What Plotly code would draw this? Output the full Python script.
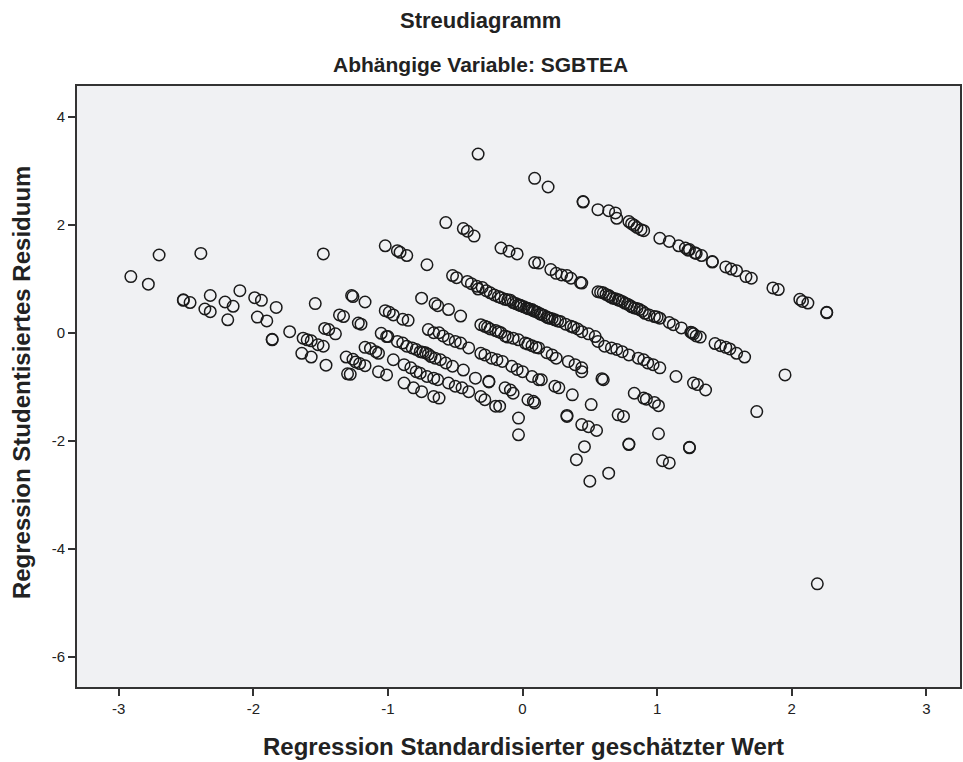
import plotly.graph_objects as go

# Left cluster
left_x = [-2.91,-2.78,-2.70,-2.39,-1.48,-2.52,-2.52,-2.47,-2.32,-2.36,-2.32,-2.21,-2.15,-2.10,-2.19,-1.99,-1.94,-1.83,-1.97,-1.90,-1.86,-1.86,-1.73,-1.54,-1.63,-1.60,-1.57,-1.52,-1.48,-1.64,-1.57,-1.46,-1.47,-1.44,-1.39,-1.36,-1.33,-1.27,-1.26,-1.17,-1.22,-1.20,-1.05,-1.01,-1.00,-1.02,-0.99,-0.96,-0.89,-0.85,-1.17,-1.13,-1.09,-1.07,-1.31,-1.26,-1.24,-1.21,-1.17,-1.30,-1.28,-1.07,-1.01,-0.96]
left_y = [1.04,0.90,1.44,1.47,1.46,0.61,0.60,0.56,0.69,0.44,0.39,0.57,0.49,0.78,0.24,0.65,0.60,0.47,0.29,0.22,-0.13,-0.12,0.02,0.54,-0.10,-0.13,-0.15,-0.22,-0.25,-0.38,-0.45,-0.60,0.08,0.06,-0.02,0.33,0.30,0.69,0.67,0.57,0.18,0.16,-0.01,-0.07,-0.07,0.41,0.38,0.33,0.25,0.23,-0.27,-0.29,-0.35,-0.38,-0.45,-0.49,-0.54,-0.57,-0.61,-0.76,-0.77,-0.72,-0.78,-0.50]

# Band A (top)
a_x = [-0.33,0.09,0.19,0.45,0.45,0.56,0.64,0.69,0.70,0.79,0.81,0.85,0.88,0.90,1.02,1.09,1.16,1.21,1.24,1.28,1.33,1.41,1.41,1.51,1.55,1.59,1.66,1.70,1.86,1.90,2.06,2.08,2.12,2.26,2.26,0.83,1.23,1.29]
a_y = [3.31,2.86,2.70,2.43,2.42,2.28,2.26,2.22,2.12,2.06,2.02,1.95,1.91,1.89,1.75,1.69,1.61,1.57,1.54,1.48,1.43,1.32,1.31,1.22,1.18,1.15,1.04,1.01,0.83,0.80,0.62,0.58,0.55,0.38,0.37,1.99,1.53,1.47]

# Band B
b_x = [-0.57,-0.44,-0.41,-0.36,-0.16,-0.10,-0.04,0.09,0.12,0.21,0.25,0.29,0.33,0.36,0.43,0.44,0.56,0.60,0.64,0.67,0.71,0.76,0.80,0.83,0.87,0.91,0.94,0.98,1.02,1.09,1.12,1.18,1.25,1.27,1.29,1.32,1.43,1.47,1.51,1.54,1.59,1.65,0.62,0.69,0.74,0.78,0.85,0.58,0.65,0.72,0.81,0.89,1.00,1.26]
b_y = [2.04,1.93,1.88,1.79,1.57,1.51,1.46,1.30,1.29,1.17,1.10,1.07,1.06,1.01,0.93,0.92,0.76,0.74,0.69,0.64,0.61,0.55,0.50,0.46,0.43,0.36,0.33,0.30,0.27,0.19,0.15,0.09,0.01,-0.02,-0.06,-0.08,-0.20,-0.24,-0.27,-0.30,-0.38,-0.45,0.71,0.63,0.58,0.53,0.45,0.75,0.67,0.60,0.48,0.40,0.29,0.00]

# Band C
c_x = [-1.02,-0.93,-0.91,-0.86,-0.71,-0.52,-0.49,-0.41,-0.38,-0.34,-0.33,-0.27,-0.21,-0.18,-0.13,-0.09,-0.07,-0.03,-0.01,0.03,0.07,0.09,0.13,0.18,0.20,0.24,0.28,0.32,0.36,0.38,0.41,0.44,0.49,0.54,0.56,0.61,0.66,0.70,0.74,0.79,0.86,0.90,0.93,0.97,1.02,1.14,1.27,1.30,1.36,-0.11,-0.05,0.01,0.05,0.11,0.16,0.22,-0.30,-0.24,-0.16,-0.02,0.04,0.08,0.14,0.19,0.26]
c_y = [1.61,1.52,1.49,1.43,1.26,1.06,1.02,0.95,0.91,0.86,0.81,0.78,0.70,0.67,0.62,0.60,0.56,0.52,0.50,0.46,0.43,0.40,0.35,0.29,0.27,0.24,0.21,0.16,0.12,0.10,0.07,0.02,-0.02,-0.07,-0.16,-0.25,-0.28,-0.31,-0.35,-0.41,-0.47,-0.50,-0.56,-0.59,-0.65,-0.81,-0.93,-0.96,-1.06,0.61,0.54,0.48,0.44,0.38,0.32,0.26,0.84,0.74,0.65,0.51,0.45,0.41,0.34,0.28,0.22]

# Band D
d_x = [-0.75,-0.65,-0.63,-0.55,-0.46,-0.31,-0.28,-0.24,-0.20,-0.16,-0.13,-0.07,-0.03,0.02,0.07,0.12,0.18,0.22,0.25,0.34,0.39,0.44,0.44,0.59,0.60,-0.26,-0.18,-0.11,0.04,0.10]
d_y = [0.64,0.54,0.50,0.43,0.31,0.15,0.12,0.07,0.04,0.00,-0.06,-0.10,-0.13,-0.19,-0.24,-0.28,-0.37,-0.41,-0.47,-0.53,-0.59,-0.65,-0.72,-0.85,-0.87,0.10,0.02,-0.08,-0.21,-0.27]

# Band E
e_x = [-0.70,-0.66,-0.62,-0.59,-0.55,-0.50,-0.46,-0.40,-0.31,-0.28,-0.23,-0.19,-0.15,-0.08,-0.04,0.00,0.07,0.12,0.14,0.24,0.27]
e_y = [0.06,0.00,0.00,-0.06,-0.12,-0.16,-0.19,-0.28,-0.38,-0.41,-0.47,-0.50,-0.53,-0.62,-0.68,-0.72,-0.81,-0.87,-0.87,-0.99,-1.02]

# Band F
f_x = [-0.93,-0.89,-0.86,-0.82,-0.79,-0.76,-0.72,-0.68,-0.65,-0.61,-0.57,-0.52,-0.44,-0.35,-0.25,-0.25,-0.13,-0.09,-0.07,0.04,0.08,0.09,-0.74,-0.70]
f_y = [-0.16,-0.19,-0.25,-0.28,-0.31,-0.35,-0.37,-0.44,-0.47,-0.50,-0.56,-0.62,-0.69,-0.84,-0.90,-0.91,-1.02,-1.06,-1.12,-1.24,-1.27,-1.30,-0.36,-0.40]

# Band H
h_x = [-0.88,-0.83,-0.79,-0.76,-0.71,-0.66,-0.63,-0.55,-0.50,-0.45,-0.40,-0.31,-0.28,-0.20,-0.17]
h_y = [-0.59,-0.65,-0.72,-0.75,-0.81,-0.84,-0.87,-0.93,-0.99,-1.02,-1.09,-1.18,-1.24,-1.36,-1.36]

# Band I
i_x = [-0.88,-0.81,-0.75,-0.66,-0.62]
i_y = [-0.93,-1.02,-1.09,-1.18,-1.21]

# Scattered lower points and outliers
s_x = [-0.03,-0.03,0.37,0.33,0.33,0.51,0.44,0.49,0.55,0.46,0.40,0.50,0.64,0.71,0.75,0.79,0.79,0.83,0.90,0.92,0.98,1.01,1.01,1.24,1.24,1.04,1.09,1.95,1.74,2.19]
s_y = [-1.58,-1.89,-1.15,-1.55,-1.53,-1.33,-1.70,-1.74,-1.81,-2.11,-2.35,-2.75,-2.60,-1.52,-1.55,-2.06,-2.07,-1.12,-1.21,-1.23,-1.29,-1.35,-1.87,-2.12,-2.13,-2.37,-2.41,-0.78,-1.46,-4.65]

x_ticks = [-3, -2, -1, 0, 1, 2, 3]
y_ticks = [-6, -4, -2, 0, 2, 4]

all_x = left_x + a_x + b_x + c_x + d_x + e_x + f_x + h_x + i_x + s_x
all_y = left_y + a_y + b_y + c_y + d_y + e_y + f_y + h_y + i_y + s_y

FONT = "Liberation Sans, Arial, sans-serif"
INK = "#222222"

fig = go.Figure()
fig.add_trace(go.Scatter(
    x=all_x, y=all_y, mode="markers",
    marker=dict(symbol="circle-open", size=11.5, color="#1a1a1a",
                line=dict(width=1.5, color="#1a1a1a")),
    showlegend=False, hoverinfo="x+y",
))

axis_common = dict(
    showgrid=False, zeroline=False, showline=True, linewidth=2,
    linecolor="#333333", mirror=True, ticks="outside", ticklen=7,
    tickwidth=1.6, tickcolor="#333333",
    tickfont=dict(family=FONT, size=15, color=INK),
)

fig.update_layout(
    width=963, height=762,
    margin=dict(l=77, r=1, t=86, b=75),
    paper_bgcolor="white", plot_bgcolor="#f0f1f3",
    font=dict(family=FONT, color=INK),
    xaxis=dict(range=[-3.31, 3.25], tickvals=x_ticks,
               ticktext=[str(v) for v in x_ticks], **axis_common),
    yaxis=dict(range=[-6.56, 4.57], tickvals=y_ticks,
               ticktext=[str(v) for v in y_ticks], **axis_common),
    annotations=[
        dict(text="<b>Streudiagramm</b>", xref="paper", yref="paper",
             x=0.457, y=1.1098, xanchor="center", yanchor="middle",
             showarrow=False, font=dict(family=FONT, size=22, color=INK)),
        dict(text="<b>Abhängige Variable: SGBTEA</b>", xref="paper", yref="paper",
             x=0.457, y=1.035, xanchor="center", yanchor="middle",
             showarrow=False, font=dict(family=FONT, size=21, color=INK)),
        dict(text="<b>Regression Standardisierter geschätzter Wert</b>",
             xref="paper", yref="paper", x=0.506, y=-0.0998,
             xanchor="center", yanchor="middle", showarrow=False,
             font=dict(family=FONT, size=24, color=INK)),
        dict(text="<b>Regression Studentisiertes Residuum</b>",
             xref="paper", yref="paper", x=-0.0621, y=0.506,
             xanchor="center", yanchor="middle", textangle=-90,
             showarrow=False, font=dict(family=FONT, size=24, color=INK)),
    ],
)

fig.write_html("out.html")
